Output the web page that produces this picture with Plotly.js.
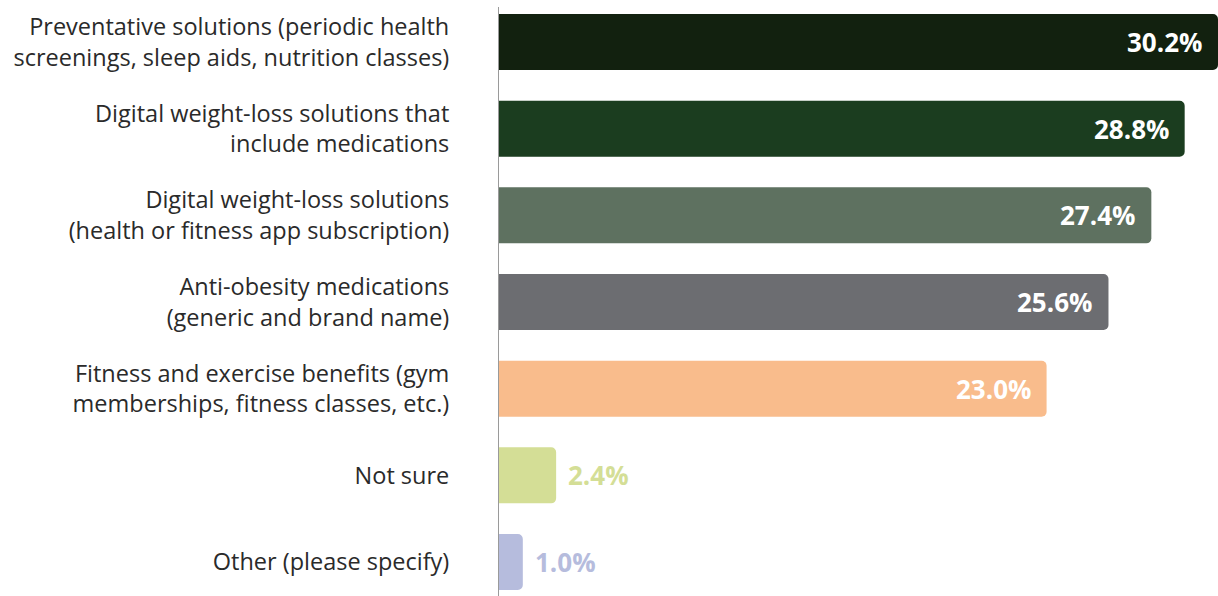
<!DOCTYPE html>
<html>
<head>
<meta charset="utf-8">
<script src="https://cdn.plot.ly/plotly-3.0.1.min.js"></script>
<style>html,body{margin:0;padding:0;background:#fff;}#chart{width:1218px;height:596px;}</style>
</head>
<body>
<div id="chart"></div>
<script>
const categories = [
  "Preventative solutions (periodic health<br>screenings, sleep aids, nutrition classes)",
  "Digital weight-loss solutions that<br>include medications",
  "Digital weight-loss solutions<br>(health or fitness app subscription)",
  "Anti-obesity medications<br>(generic and brand name)",
  "Fitness and exercise benefits (gym<br>memberships, fitness classes, etc.)",
  "Not sure",
  "Other (please specify)"
];
const values = [30.2, 28.8, 27.4, 25.6, 23.0, 2.4, 1.0];
const valueLabels = ["30.2%", "28.8%", "27.4%", "25.6%", "23.0%", "2.4%", "1.0%"];
const barColors = ["#12210f", "#1b3d1f", "#5e7160", "#6c6d71", "#f9bc8c", "#d4de96", "#b6bcdd"];
const insideLabel = [true, true, true, true, true, false, false];

const idx = categories.map((c, i) => i);
const FONT = "'Open Sans', Lato, sans-serif";

const trace = {
  type: "bar",
  orientation: "h",
  x: values,
  y: idx,
  width: 0.646,
  marker: {color: barColors, line: {width: 0}},
  hoverinfo: "skip"
};

const annotations = values.map((v, i) => ({
  x: v,
  y: i,
  xref: "x",
  yref: "y",
  text: "<b>" + valueLabels[i] + "</b>",
  showarrow: false,
  xanchor: insideLabel[i] ? "right" : "left",
  xshift: insideLabel[i] ? -14 : 10,
  font: {family: FONT, size: 26, color: insideLabel[i] ? "#ffffff" : barColors[i]}
}));

const layout = {
  width: 1218,
  height: 596,
  margin: {l: 499, r: 0, t: 7, b: 0, pad: 0},
  paper_bgcolor: "#ffffff",
  plot_bgcolor: "#ffffff",
  showlegend: false,
  barcornerradius: 5,
  font: {family: FONT, color: "#2a2a2a"},
  xaxis: {
    range: [0, 30.2],
    showgrid: false,
    zeroline: false,
    showline: false,
    showticklabels: false,
    ticks: "",
    fixedrange: true
  },
  yaxis: {
    range: [6.392, -0.404],
    tickmode: "array",
    tickvals: idx,
    ticktext: categories,
    showgrid: false,
    zeroline: false,
    showline: true,
    linecolor: "#9a9a9a",
    linewidth: 1,
    ticks: "",
    ticklabelstandoff: 44,
    tickfont: {family: FONT, size: 23.5, color: "#2a2a2a"},
    automargin: false,
    fixedrange: true
  },
  annotations: annotations
};

Plotly.newPlot("chart", [trace], layout, {staticPlot: true, displayModeBar: false});
</script>
</body>
</html>
